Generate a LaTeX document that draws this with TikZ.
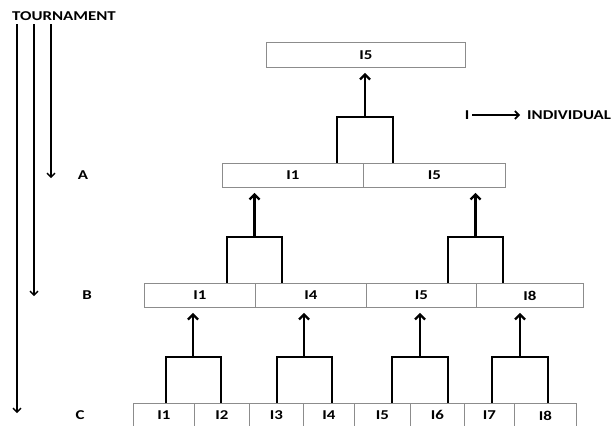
\documentclass[tikz,border=0pt]{standalone}
\usepackage{fontspec}
\setmainfont{Carlito}[FakeStretch=1.25]
\usetikzlibrary{arrows.meta,calc}
\begin{document}
\begin{tikzpicture}[x=1pt,y=-1pt,
  cell/.style={draw=black!45, line width=0.8pt, inner sep=0pt, anchor=north west, font=\bfseries\fontsize{13.5}{14}\selectfont},
  lbl/.style={font=\bfseries\fontsize{13.5}{14}\selectfont, inner sep=0pt},
  conn/.style={line width=2.6pt, line join=miter},
  up/.style={line width=2.6pt, -{Straight Barb[length=5pt,width=10pt,line width=2.4pt]}, shorten >=5pt},
  side/.style={line width=1.6pt, -{Straight Barb[length=4pt,width=8pt,line width=1.4pt]}}
]
\useasboundingbox[fill=white] (0,0) rectangle (611,426);

% top box
\node[cell, minimum width=199pt, minimum height=25pt] (t) at (266,42) {I5};
% row A
\node[cell, minimum width=141pt, minimum height=24pt] (a1) at (222,163) {I1};
\node[cell, minimum width=142pt, minimum height=24pt] (a2) at (363,163) {I5};
% row B
\node[cell, minimum width=111pt, minimum height=24pt] (b1) at (144,283) {I1};
\node[cell, minimum width=111pt, minimum height=24pt] (b2) at (255,283) {I4};
\node[cell, minimum width=110pt, minimum height=24pt] (b3) at (366,283) {I5};
\node[cell, minimum width=107pt, minimum height=24pt] (b4) at (476,283) {I8};
% row C
\node[cell, minimum width=61pt, minimum height=24pt] (c1) at (133,403) {I1};
\node[cell, minimum width=55pt, minimum height=24pt] (c2) at (194,403) {I2};
\node[cell, minimum width=54pt, minimum height=24pt] (c3) at (249,403) {I3};
\node[cell, minimum width=51pt, minimum height=24pt] (c4) at (303,403) {I4};
\node[cell, minimum width=56pt, minimum height=24pt] (c5) at (354,403) {I5};
\node[cell, minimum width=54pt, minimum height=24pt] (c6) at (410,403) {I6};
\node[cell, minimum width=50pt, minimum height=24pt] (c7) at (464,403) {I7};
\node[cell, minimum width=62pt, minimum height=24pt] (c8) at (514,403) {I8};

% C -> B
\draw[conn] (166,0 |- c1.north) -- (166,357) -- (221,357) -- (221,0 |- c2.north);
\draw[up] (193,357) -- (193,0 |- b1.south);
\draw[conn] (277,0 |- c3.north) -- (277,357) -- (332,357) -- (332,0 |- c4.north);
\draw[up] (304,357) -- (304,0 |- b2.south);
\draw[conn] (392,0 |- c5.north) -- (392,357) -- (448,357) -- (448,0 |- c6.north);
\draw[up] (420,357) -- (420,0 |- b3.south);
\draw[conn] (492,0 |- c7.north) -- (492,357) -- (548,357) -- (548,0 |- c8.north);
\draw[up] (520,357) -- (520,0 |- b4.south);

% B -> A
\draw[conn] (227,0 |- b1.north) -- (227,237) -- (282,237) -- (282,0 |- b2.north);
\draw[up] (254.5,237) -- (254.5,0 |- a1.south);
\draw[conn] (448,0 |- b3.north) -- (448,237) -- (503,237) -- (503,0 |- b4.north);
\draw[up] (475.5,237) -- (475.5,0 |- a2.south);

% A -> top
\draw[conn] (337,0 |- a1.north) -- (337,117) -- (393,117) -- (393,0 |- a2.north);
\draw[up] (365,117) -- (365,0 |- t.south);

% left labels
\node[lbl, anchor=west] (tour) at (12,16) {TOURNAMENT};
\node[lbl] (la) at (83,175) {A};
\node[lbl] (lb) at (87,295) {B};
\node[lbl] (lc) at (80,415) {C};
\coordinate (ea) at (51,178);
\coordinate (eb) at (34,296);
\coordinate (ec) at (17,413);
\draw[side] (51,24) -- (ea);
\draw[side] (34,24) -- (eb);
\draw[side] (17,24) -- (ec);

% legend
\node[lbl] (li) at (467,115) {I};
\node[lbl, anchor=west] (lind) at (527,115) {INDIVIDUAL};
\draw[line width=1.6pt, -{Straight Barb[length=4pt,width=8pt,line width=1.6pt]}] (li.east) ++(3,0) -- ($(lind.west)+(-7,0)$);
\end{tikzpicture}
\end{document}
